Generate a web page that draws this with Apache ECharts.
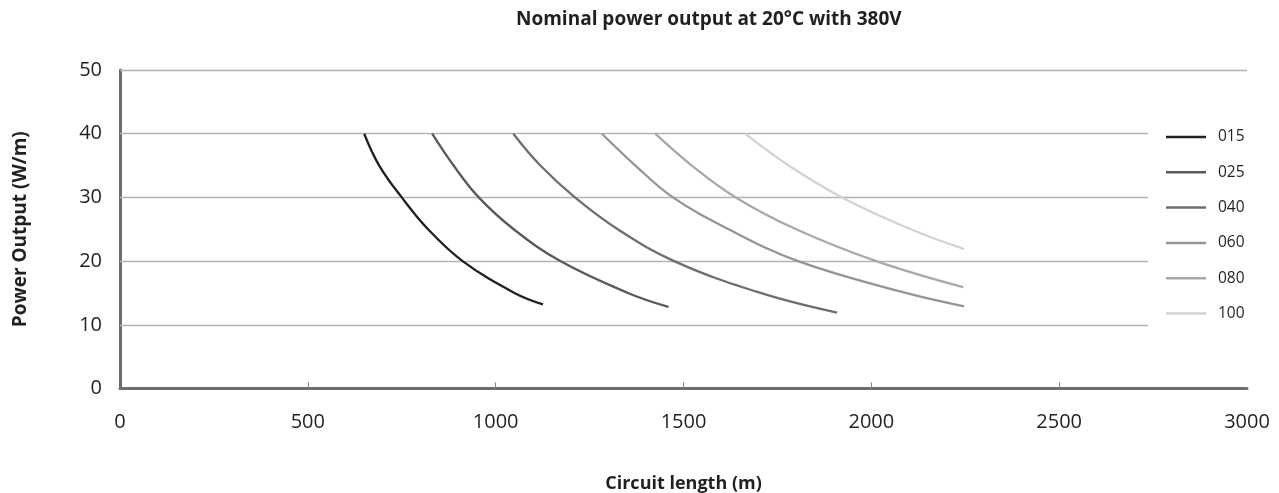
<!DOCTYPE html>
<html>
<head>
<meta charset="utf-8">
<script src="https://cdn.jsdelivr.net/npm/echarts@6/dist/echarts.min.js"></script>
<style>
  html, body { margin: 0; padding: 0; background: #fff; }
  #chart { width: 1279px; height: 493px; }
</style>
</head>
<body>
<div id="chart"></div>
<script>
// values: [circuit length (m), power output (W/m)]
var seriesNames = ['015', '025', '040', '060', '080', '100'];
var s015 = [[650, 40], [690, 35], [750, 30], [820, 25], [912, 20], [1050, 15], [1126, 13.2]];
var s025 = [[831, 40], [888, 35], [955, 30], [1048, 25], [1172, 20], [1352, 15], [1460, 12.8]];
var s040 = [[1047, 40], [1119, 35], [1211, 30], [1325, 25], [1475, 20], [1705, 15], [1909, 11.9]];
var s060 = [[1283, 40], [1372, 35], [1472, 30], [1620, 25], [1805, 20], [2092, 15], [2247, 12.9]];
var s080 = [[1425, 40], [1522, 35], [1639, 30], [1800, 25], [2013, 20], [2245, 15.9]];
var s100 = [[1664, 40], [1780, 35], [1922, 30], [2105, 25], [2247, 21.9]];
var seriesData = [s015, s025, s040, s060, s080, s100];
var seriesColors = ['#231f20', '#58595b', '#6d6e71', '#939598', '#a7a9ac', '#d1d3d4'];

var xTicks = [500, 1000, 1500, 2000, 2500];
var gridValues = [10, 20, 30, 40];   // short grid lines (stop before the legend)
var gridEnd = 2737;
var topLine = 50;

var font = 'Open Sans';
var chart = echarts.init(document.getElementById('chart'));

var series = seriesNames.map(function (name, i) {
  return {
    name: name,
    type: 'line',
    data: seriesData[i],
    smooth: 0.4,
    symbol: 'none',
    lineStyle: { color: seriesColors[i], width: 2.3 },
    itemStyle: { color: seriesColors[i] },
    z: 5
  };
});

var gridLines = gridValues.map(function (v) {
  return [{ coord: [0, v] }, { coord: [gridEnd, v] }];
});
gridLines.push([{ coord: [0, topLine] }, { coord: [3000, topLine] }]);

series.push({
  type: 'line',
  data: [],
  silent: true,
  markLine: {
    silent: true,
    symbol: 'none',
    label: { show: false },
    lineStyle: { color: '#b1b3b6', width: 1.3, type: 'solid' },
    data: gridLines
  },
  z: 1
});

chart.setOption({
  animation: false,
  title: {
    text: 'Nominal power output at 20°C with 380V',
    left: 511,
    top: 5,
    textStyle: { fontFamily: font, fontWeight: 'bold', fontSize: 19, color: '#231f20' }
  },
  legend: {
    data: seriesNames,
    orient: 'vertical',
    left: 1166,
    top: 127,
    padding: 0,
    icon: 'rect',
    itemWidth: 40,
    itemHeight: 2.5,
    itemGap: 15.3,
    textStyle: { fontFamily: font, fontSize: 15.5, color: '#231f20', lineHeight: 20, padding: [0, 0, 0, 7] }
  },
  grid: { left: 120, right: 32, top: 70, bottom: 104.5, outerBoundsMode: 'none' },
  xAxis: {
    type: 'value',
    min: 0,
    max: 3000,
    interval: 500,
    name: 'Circuit length (m)',
    nameLocation: 'middle',
    nameGap: 86,
    nameTextStyle: { fontFamily: font, fontWeight: 'bold', fontSize: 18, color: '#231f20' },
    axisLine: { show: true, lineStyle: { color: '#6d6e71', width: 3 } },
    axisTick: { show: true, inside: true, length: 6, lineStyle: { color: '#808285', width: 1 }, customValues: xTicks },
    axisLabel: { fontFamily: font, fontSize: 20, color: '#231f20', margin: 24, formatter: function (v) { return String(v); } },
    splitLine: { show: false }
  },
  yAxis: {
    type: 'value',
    min: 0,
    max: 50,
    interval: 10,
    name: 'Power Output (W/m)',
    nameLocation: 'middle',
    nameGap: 90,
    nameRotate: 90,
    nameTextStyle: { fontFamily: font, fontWeight: 'bold', fontSize: 19, color: '#231f20' },
    axisLine: { show: true, lineStyle: { color: '#6d6e71', width: 3 } },
    axisTick: { show: false },
    axisLabel: { fontFamily: font, fontSize: 20, color: '#231f20', margin: 18 },
    splitLine: { show: false }
  },
  series: series
});
</script>
</body>
</html>
